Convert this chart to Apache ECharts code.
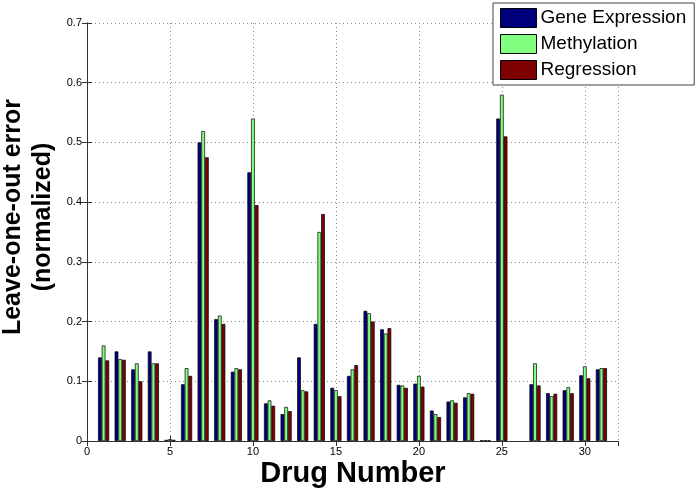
<!DOCTYPE html>
<html><head><meta charset="utf-8">
<script src="https://cdn.jsdelivr.net/npm/echarts@6/dist/echarts.min.js"></script>
<style>html,body{margin:0;padding:0;background:#fff}#c{width:696px;height:493px}</style>
</head><body><div id="c"></div>
<script>
var drugs = [1,2,3,4,5,6,7,8,9,10,11,12,13,14,15,16,17,18,19,20,21,22,23,24,25,26,27,28,29,30,31];
var geneExpression = [0.140,0.150,0.120,0.150,0.002,0.095,0.500,0.204,0.116,0.450,0.063,0.045,0.140,0.196,0.089,0.109,0.218,0.187,0.094,0.096,0.051,0.066,0.073,0.001,0.540,null,0.095,0.080,0.085,0.110,0.120];
var methylation    = [0.160,0.137,0.130,0.130,0.003,0.122,0.519,0.210,0.122,0.540,0.068,0.057,0.085,0.350,0.085,0.120,0.214,0.180,0.093,0.109,0.045,0.068,0.080,0.001,0.580,null,0.130,0.075,0.090,0.125,0.122];
var regression     = [0.135,0.136,0.100,0.130,0.002,0.109,0.475,0.196,0.120,0.395,0.059,0.050,0.083,0.380,0.075,0.127,0.200,0.189,0.089,0.091,0.040,0.064,0.079,0.001,0.510,null,0.093,0.079,0.080,0.105,0.122];
var seriesNames = ['Gene Expression','Methylation','Regression'];
var seriesColors = ['#00007f','#80ff80','#7f0000'];
var xTitle = 'Drug Number';
var yTitle = 'Leave-one-out error\n(normalized)';

var FONT = '"Liberation Sans", Arial, sans-serif';
function pairs(v){ return drugs.map(function(d,i){ return [d, v[i] === null ? '-' : v[i]]; }); }
var vals = [geneExpression, methylation, regression];

var chart = echarts.init(document.getElementById('c'), null, {renderer:'canvas'});
var axisCommon = {
  axisLine:{show:true,lineStyle:{color:'#333',width:1}},
  axisTick:{show:true,inside:true,length:5,lineStyle:{color:'#333'}}
};
chart.setOption({
  animation:false,
  backgroundColor:'#fff',
  grid:{left:87,right:78,top:23,bottom:52,containLabel:false},
  legend:{
    show:true, orient:'vertical', left:493, top:3,
    data:seriesNames, icon:'rect', itemWidth:36, itemHeight:19, itemGap:6,
    padding:[5,8,5,7], backgroundColor:'#fff', borderColor:'#444', borderWidth:1,
    textStyle:{fontFamily:FONT,fontSize:19,color:'#000',padding:[0,0,0,-1]},
    itemStyle:{borderColor:'#000',borderWidth:1}
  },
  xAxis:[
    Object.assign({type:'value',min:0,max:32,interval:5,position:'bottom',
      axisLabel:{fontFamily:FONT,fontSize:11,color:'#000',margin:5,showMaxLabel:false},
      splitLine:{show:true,lineStyle:{type:[1,3],color:'#888',width:1}}}, axisCommon),
    Object.assign({type:'value',min:0,max:32,interval:5,position:'top',
      axisLabel:{show:false},splitLine:{show:false}}, axisCommon)
  ],
  yAxis:[
    Object.assign({type:'value',min:0,max:0.7,interval:0.1,position:'left',
      axisLabel:{fontFamily:FONT,fontSize:11,color:'#000',margin:5,
        formatter:function(v){return v===0?'0':(+v.toFixed(1)).toString();}},
      splitLine:{show:true,lineStyle:{type:[1,3],color:'#888',width:1}}}, axisCommon),
    Object.assign({type:'value',min:0,max:0.7,interval:0.1,position:'right',
      axisLabel:{show:false},splitLine:{show:false}}, axisCommon)
  ],
  series: seriesNames.map(function(n,k){
    return {name:n,type:'bar',xAxisIndex:0,yAxisIndex:0,data:pairs(vals[k]),
      barWidth:3.7,barGap:'0%',
      itemStyle:{color:seriesColors[k],borderColor:'#000',borderWidth:0.7}};
  }),
  graphic:[
    {type:'text',x:353,y:474,style:{text:xTitle,font:'bold 29px '+FONT,fill:'#000',align:'center',verticalAlign:'middle'}},
    {type:'text',x:28,y:217,rotation:Math.PI/2,
     style:{text:yTitle,font:'bold 25px '+FONT,fill:'#000',align:'center',verticalAlign:'middle',lineHeight:30}}
  ]
});
</script></body></html>
